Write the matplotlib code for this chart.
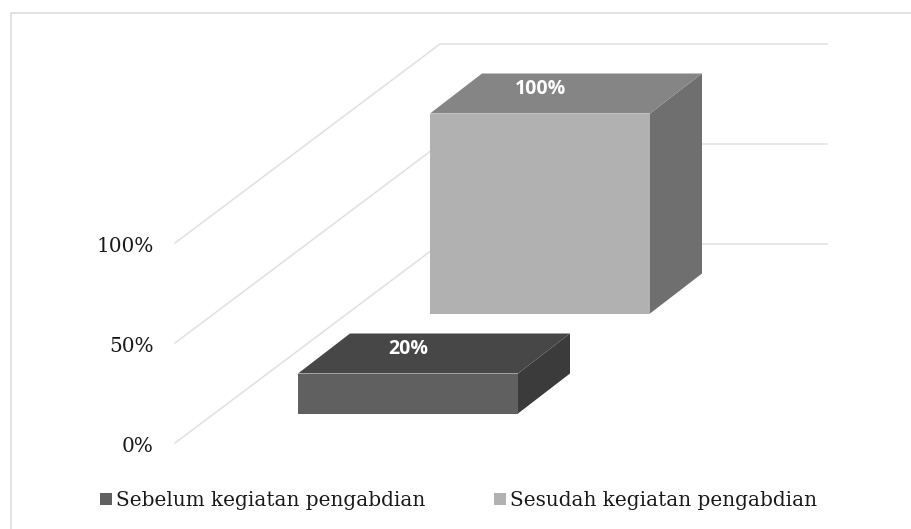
import matplotlib
matplotlib.use("Agg")
import matplotlib.pyplot as plt
from matplotlib.patches import Polygon, Rectangle

# Data
series_names = ["Sebelum kegiatan pengabdian", "Sesudah kegiatan pengabdian"]
series_values = [20, 100]
value_labels = ["20%", "100%"]
tick_values = [0, 50, 100]
tick_labels = ["0%", "50%", "100%"]

W, H = 911, 529
fig = plt.figure(figsize=(W / 100, H / 100), dpi=100, facecolor="white")
ax = fig.add_axes([0, 0, 1, 1])
ax.set_xlim(0, W)
ax.set_ylim(H, 0)
ax.axis("off")

SERIF = "DejaVu Serif"
PX_PER_UNIT = 2.0
Y_ZERO = 443.0


def vy(v):
    return Y_ZERO - v * PX_PER_UNIT


# Chart frame
ax.plot([10.5, 10.5, 911], [529, 12.5, 12.5], color="#dedede", lw=1.3, solid_joinstyle="miter")

# Gridlines: floor-side diagonal, then back wall
WALL_X, WALL_DY, GRID_LEFT, GRID_RIGHT = 440, -199, 175, 827
for v, lab in zip(tick_values, tick_labels):
    y = vy(v)
    ax.plot([GRID_LEFT, WALL_X, GRID_RIGHT], [y, y + WALL_DY, y + WALL_DY],
            color="#e0e0e0", lw=1.1, zorder=1)
    ax.text(153.5, y + 3.5, lab, ha="right", va="center", fontsize=14.4,
            family=SERIF, color="#1a1a1a")

# 3D bars
DX, DY = 52, -40
BAR_W = 220
fronts = ["#606060", "#b1b1b1"]
tops = ["#474747", "#858585"]
sides = ["#3b3b3b", "#6f6f6f"]
lefts = [298, 430]
bases = [413.5, 313.5]
label_x = [408, 540]
for i, v in enumerate(series_values):
    x0, x1 = lefts[i], lefts[i] + BAR_W
    yb = bases[i]
    yt = yb - v * PX_PER_UNIT
    ax.add_patch(Polygon([(x1, yb), (x1, yt), (x1 + DX, yt + DY), (x1 + DX, yb + DY)],
                         facecolor=sides[i], edgecolor="none", zorder=3))
    ax.add_patch(Polygon([(x0, yt), (x1, yt), (x1 + DX, yt + DY), (x0 + DX, yt + DY)],
                         facecolor=tops[i], edgecolor="none", zorder=3))
    ax.add_patch(Rectangle((x0, yt), BAR_W, yb - yt, facecolor=fronts[i],
                           edgecolor="none", zorder=4))
    ax.text(label_x[i], yt - 24.5, value_labels[i], ha="center", va="center",
            fontsize=14, fontweight="bold", family="Open Sans", color="white", zorder=5)

# Legend
leg_x = [100, 494]
for i, name in enumerate(series_names):
    ax.add_patch(Rectangle((leg_x[i], 493), 12, 12, facecolor=fronts[i], edgecolor="none"))
    ax.text(leg_x[i] + 16, 500, name, ha="left", va="center", fontsize=14.4,
            family=SERIF, color="#1a1a1a")

fig.savefig("out.png", dpi=100)
